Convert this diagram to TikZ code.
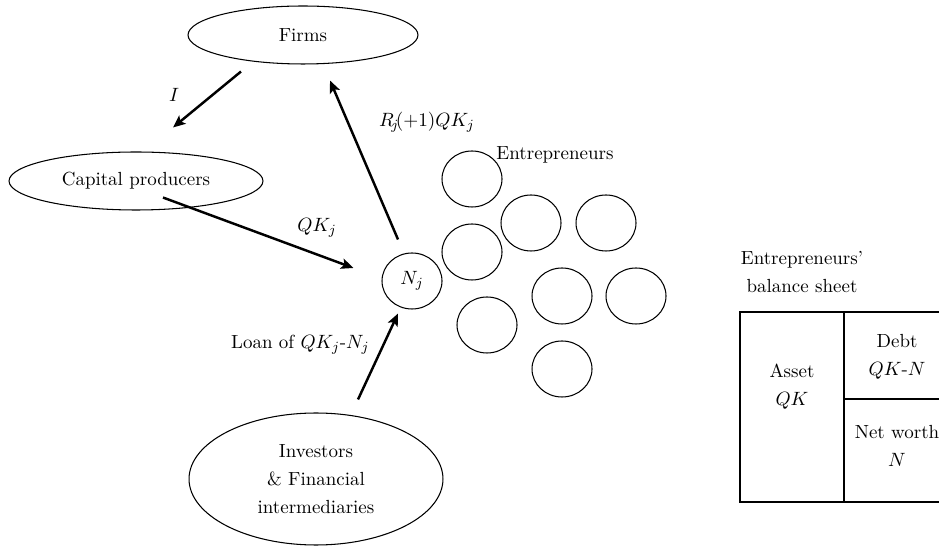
\documentclass[tikz,border=0pt]{standalone}
\usepackage{amsmath}
\usepackage{tikz}
\usetikzlibrary{calc,shapes.geometric,arrows.meta}

\begin{document}
\begin{tikzpicture}[x=0.02cm,y=-0.02cm,
   every node/.style={font=\fontsize{10.8}{13}\selectfont},
   agent/.style={draw,ellipse,line width=0.6pt,inner sep=0pt},
   entre/.style={agent,minimum width=1.2cm,minimum height=1.12cm},
   flow/.style={line width=1.4pt,-{Stealth[length=7pt,width=6pt,inset=1.5pt]}},
   sheet/.style={line width=0.8pt}]
   \useasboundingbox (0,0) rectangle (939,546);
   % sectors
   \node[agent,minimum width=4.6cm,minimum height=1.16cm] (firms) at (303,35) {Firms};
   \node[agent,minimum width=5.08cm,minimum height=1.16cm] (capprod) at (136,181) {Capital producers};
   \node[agent,minimum width=5.08cm,minimum height=2.64cm,align=center] (investors) at (316,479)
      {Investors\\[3pt] \& Financial\\[3pt] intermediaries};
   % entrepreneurs
   \node[entre] (nj) at (412,281) {$N_j$};
   \foreach \name/\x/\y in {ea/472/179, eb/531/223, ec/606/223, ed/472/252,
                            ee/562/296, ef/636/296, eg/487/325, eh/562/369}
      \node[entre] (\name) at (\x,\y) {};
   \node (entrelabel) at (555,155) {Entrepreneurs};
   % flows
   \draw[flow] ($(firms.south)+(-62,7)$) -- ($(capprod.north)+(37,-24)$);
   \draw[flow] ($(nj.north)+(-14,-13)$) -- ($(firms.south)+(27,16)$);
   \draw[flow] ($(capprod.south)+(27,-13)$) -- ($(nj.west)+(-28,-13)$);
   \draw[flow] ($(investors.north)+(42,-13)$) -- ($(nj.south)+(-14,4)$);
   \node (lab-i) at (174,95) {$I$};
   \node[anchor=west] (lab-r) at (373,122) {$R_{\!j}\!(+1)QK_j$};
   \node (lab-qk) at (317,228) {$QK_j$};
   \node[anchor=west] (lab-loan) at (225,345) {Loan of $QK_j$-$N_j$};
   % balance sheet
   \node[align=center] (bstitle) at (802,272) {Entrepreneurs'\\[3pt] balance sheet};
   \draw[sheet] (940,312) -- (740,312) -- (740,502) -- (940,502);
   \draw[sheet] (844,312) -- (844,502);
   \draw[sheet] (844,399) -- (940,399);
   \node[align=center] (asset) at (792,387) {Asset\\[3pt] $QK$};
   \node[align=center] (debt) at (897,357) {Debt\\[3pt] $QK$-$N$};
   \node[align=center] (networth) at (897,446) {Net worth\\[3pt] $N$};
\end{tikzpicture}
\end{document}
